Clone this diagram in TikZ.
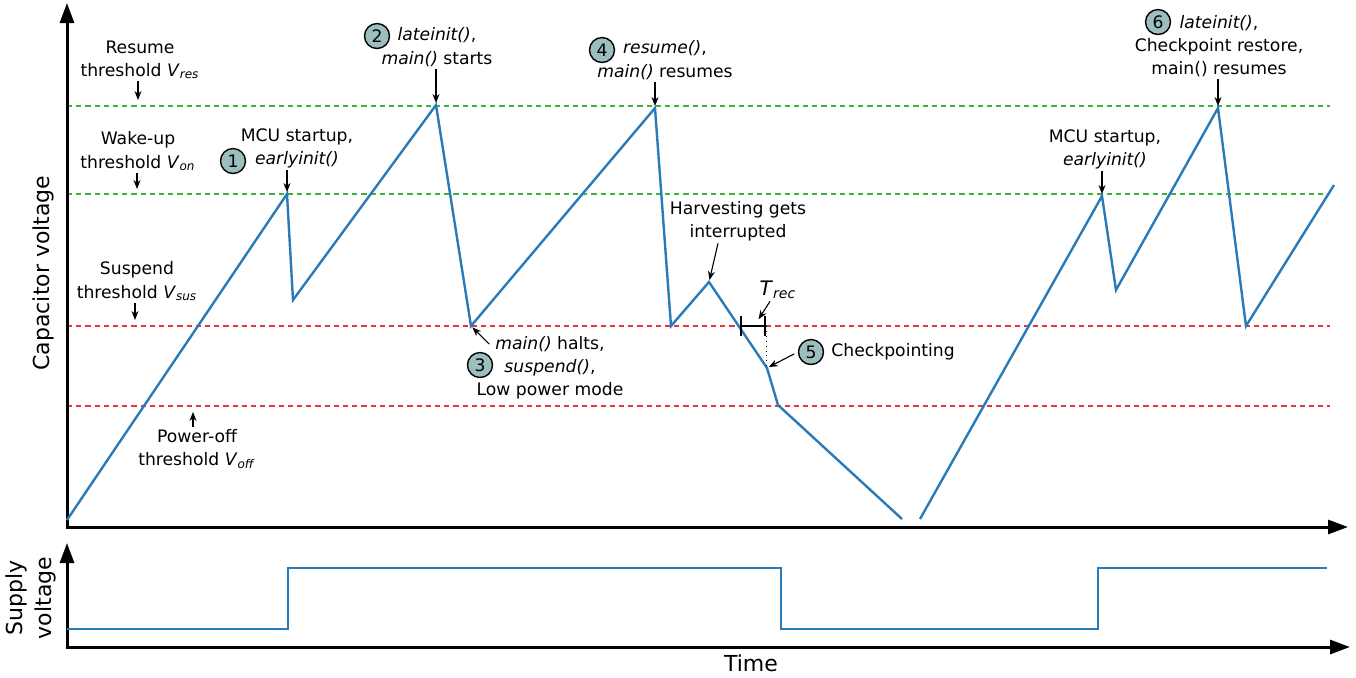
\documentclass[tikz,border=0pt]{standalone}
\usepackage{fontspec}
\setmainfont{DejaVu Sans}
\usepackage{tikz}
\usetikzlibrary{arrows.meta,calc}
\tikzset{>=Stealth}
\definecolor{WaveBlue}{HTML}{2A7AB8}
\definecolor{OnGreen}{HTML}{3CB43C}
\definecolor{SusRed}{HTML}{E8333F}
\definecolor{StepFill}{HTML}{9CBEBF}
\newcommand{\notefont}{\fontsize{8.6}{11.6}\selectfont}
\newcommand{\axisfont}{\fontsize{11}{14.5}\selectfont}
\newcommand{\vth}[1]{\textit{V}\textsubscript{\textit{#1}}}
\tikzset{
  thr/.style={line width=0.6pt, dash pattern=on 2.6pt off 2pt},
  wave/.style={WaveBlue, line width=1.2pt},
  supply/.style={WaveBlue, line width=0.9pt},
  axis/.style={line width=1.5pt, {Triangle[length=10pt,width=7pt]}-{Triangle[length=10pt,width=7pt]}},
  note/.style={font=\notefont, align=center, inner sep=1pt},
  stepnum/.style={circle, draw, line width=0.7pt, fill=StepFill, minimum size=12.5pt, inner sep=0pt, font=\notefont},
  ptr/.style={-{Stealth[length=4.5pt,width=3.5pt]}, line width=0.55pt, shorten >=1pt},
}

\begin{document}
\begin{tikzpicture}[x=0.5pt,y=-0.5pt]
  \useasboundingbox (0,0) rectangle (1356,677);
  % thresholds
  \foreach \y/\col in {106/OnGreen,194/OnGreen,326/SusRed,406/SusRed}
    \draw[thr,\col] (67,\y) -- (1330,\y);
  % axes
  \draw[axis] (67,3) -- (67,527) -- (1348,527);
  \draw[axis] (67,543) -- (67,647) -- (1350,647);
  \node[rotate=90, font=\axisfont] (lcap) at (43,273) {Capacitor voltage};
  \node[rotate=90, font=\axisfont, align=center] (lsup) at (31,598) {Supply\\voltage};
  \node[font=\axisfont] (ltime) at (751,663) {Time};

  % capacitor voltage
  \foreach \n/\x/\y in {0/67/520, 1/287/194, 2/293/300, 3/436/105, 4/471/326,
    5/655/108, 6/671/326, 7/709/282, 8/767/368, 9/778/405, 10/902/519,
    11/920/519, 12/1102/196, 13/1116/290, 14/1218/108, 15/1246/326, 16/1334/185}
    \coordinate (w\n) at (\x,\y);
  \draw[wave] (w0) -- (w1) -- (w2) -- (w3) -- (w4) -- (w5) -- (w6) -- (w7)
    -- (w8) -- (w9) -- (w10);
  \draw[wave] (w11) -- (w12) -- (w13) -- (w14) -- (w15) -- (w16);

  % supply voltage
  \draw[supply] (67,629) -- (288,629) -- (288,568) -- (781,568) -- (781,629)
    -- (1098,629) -- (1098,568) -- (1327,568);

  % threshold labels
  \node[note] (lres) at (140,60) {Resume\\threshold \vth{res}};
  \node[note] (lon) at (138,151) {Wake-up\\threshold \vth{on}};
  \node[note] (lsus) at (137,281) {Suspend\\threshold \vth{sus}};
  \node[note] (loff) at (197,449) {Power-off\\threshold \vth{off}};
  \coordinate (ares) at (138,102);
  \coordinate (aon) at (137,191);
  \coordinate (asus) at (135,322);
  \coordinate (aoff) at (193,410);
  \draw[ptr] (lres.south -| ares) -- (ares);
  \draw[ptr] (lon.south -| aon) -- (aon);
  \draw[ptr] (lsus.south -| asus) -- (asus);
  \draw[ptr] (loff.north -| aoff) -- (aoff);

  % events
  \foreach \n/\x/\y in {1/233/161, 2/377/36, 3/480/365, 4/602/50, 5/811/352, 6/1158/22}
    \node[stepnum] (s\n) at (\x,\y) {\n};
  \node[note] (lmcua) at (297,148) {MCU startup,\\\textit{earlyinit()}};
  \node[note] (llate) at (437,47) {\textit{lateinit()},\\\textit{main()} starts};
  \node[note] (lhalt) at (550,368) {\textit{main()} halts,\\\textit{suspend()},\\Low power mode};
  \node[note] (lresume) at (665,60) {\textit{resume()},\\\textit{main()} resumes};
  \node[note] (lharv) at (738,221) {Harvesting gets\\interrupted};
  \node[note, anchor=west] (lchk) at (829,352) {Checkpointing};
  \node[note] (lmcub) at (1105,149) {MCU startup,\\\textit{earlyinit()}};
  \node[note] (lrestore) at (1219,46) {\textit{lateinit()},\\Checkpoint restore,\\main() resumes};
  \draw[ptr] (lmcua.south -| w1) -- (w1);
  \draw[ptr] (llate.south -| w3) -- (w3);
  \draw[ptr] ([xshift=7.5pt,yshift=-5pt]lhalt.north west) -- (w4);
  \draw[ptr] (lresume.south -| w5) -- (w5);
  \draw[ptr] ([xshift=-10pt]lharv.south) -- (w7);
  \draw[ptr, shorten <=2pt] (s5.west) -- (w8);
  \draw[ptr] (lmcub.south -| w12) -- (w12);
  \draw[ptr] (lrestore.south -| w14) -- (w14);

  % recovery time
  \coordinate (rl) at (740,326);
  \coordinate (rr) at (766,326);
  \draw[line width=1pt, {Bar[width=10pt]}-{Bar[width=10pt]}] (rl) -- (rr);
  \draw[dotted, line width=0.45pt] (rr) -- (rr |- w8);
  \node[inner sep=1pt] (ltrec) at (778,290) {\fontsize{10}{12}\selectfont\textit{T}\textsubscript{\textit{rec}}};
  \draw[ptr, shorten >=4pt] ([xshift=-4pt]ltrec.south) -- ($(rl)!0.55!(rr)$);
\end{tikzpicture}
\end{document}
